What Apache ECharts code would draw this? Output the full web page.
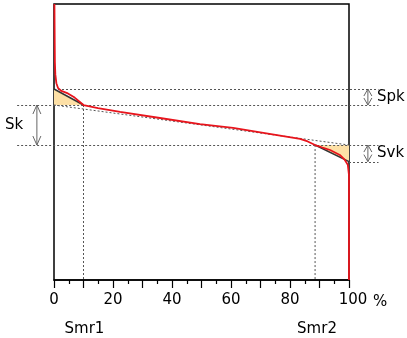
<!DOCTYPE html>
<html><head><meta charset="utf-8">
<script src="https://cdn.jsdelivr.net/npm/echarts@6/dist/echarts.min.js"></script>
<style>html,body{margin:0;padding:0;background:#fff}#c{width:407px;height:338px}</style>
</head><body><div id="c"></div>
<script>
// Abbott-Firestone (bearing area) curve: material ratio (%) vs. height (relative units, 0-100)
const curveX = [0.15, 0.2, 0.25, 0.3, 0.45, 0.8, 1.4, 2.5, 4.7, 7, 10, 14.9, 22.4, 35.9, 49.5, 60.7, 75.6, 83.4, 86, 88.5, 91, 93.6, 96.9, 98.6, 99.6, 100, 100];
const curveY = [100, 92, 85, 79, 74.5, 71.3, 69.5, 68.5, 67.6, 66.1, 63.4, 62.3, 60.9, 58.7, 56.5, 55.1, 52.5, 51.1, 50.2, 48.9, 48.0, 47.1, 45.3, 43.5, 41.7, 38, 0];
const xTickLabels = [0, 20, 40, 60, 80, 100];
// Spk top, Sk top, Sk bottom, Svk bottom
const levelValues = [69.2, 63.4, 48.9, 42.9];
// Smr1, Smr2
const smrValues = [10, 88.5];
const guideExtent = [-12.5, 110];
const arrowColumns = [-5.8, 106.4];

const chart = echarts.init(document.getElementById('c'), null, {renderer: 'canvas'});
const FONT = 'DejaVu Sans';
const [spkTop, skTop, skBot, svkBot] = levelValues;
const [smr1, smr2] = smrValues;
const dash = {color: '#555', width: 1, type: [2, 2]};
function seg(points, style, z) {
  return {type: 'line', data: points, symbol: 'none', clip: false, silent: true, animation: false, lineStyle: style, z: z || 3};
}

const option = {
  animation: false,
  grid: {left: 54, right: 58, top: 4, bottom: 58, show: true, borderColor: '#000', borderWidth: 1.5, backgroundColor: 'transparent'},
  xAxis: {
    type: 'value', min: 0, max: 100, interval: 10,
    axisLine: {lineStyle: {color: '#000', width: 1.5}},
    axisTick: {length: 8, lineStyle: {color: '#000', width: 1.2}},
    minorTick: {show: true, splitNumber: 2, length: 4, lineStyle: {color: '#000', width: 1.2}},
    splitLine: {show: false},
    axisLabel: {
      margin: 13, fontFamily: FONT, fontSize: 15, color: '#000',
      formatter: function (v) {
        if (xTickLabels.indexOf(v) < 0) return '';
        return v === 100 ? '{p|100}' : String(v);
      },
      rich: {p: {fontFamily: FONT, fontSize: 15, color: '#000', padding: [0, 0, 0, 8]}}
    }
  },
  yAxis: {
    type: 'value', min: 0, max: 100,
    axisLine: {show: false}, axisTick: {show: false}, axisLabel: {show: false}, splitLine: {show: false}
  },
  series: [
    {
      type: 'custom', z: 1, silent: true,
      encode: {x: [0, 2, 4], y: [1, 3, 5]},
      data: [[0, spkTop, 0, skTop, smr1, skTop], [smr2, skBot, 100, skBot, 100, svkBot]],
      renderItem: function (params, api) {
        const pts = [];
        for (let k = 0; k < 3; k++) pts.push(api.coord([api.value(2 * k), api.value(2 * k + 1)]));
        return {type: 'polygon', shape: {points: pts}, style: {fill: '#fde0a6', stroke: null}};
      }
    },
    seg([[smr1, skTop], [smr1, 0]], dash),
    seg([[smr2, skBot], [smr2, 0]], dash),
    seg([[0, skTop], [100, skBot]], dash),
    seg([[0, spkTop], [smr1, skTop]], {color: '#333', width: 1.5}, 4),
    seg([[smr2, skBot], [100, svkBot]], {color: '#333', width: 1.5}, 4),
    {
      type: 'line', data: curveX.map((x, i) => [x, curveY[i]]), symbol: 'none', clip: false,
      lineStyle: {color: '#e8141c', width: 1.8}, z: 6, silent: true
    }
  ]
};
chart.setOption(option);

function px(x, y) { return chart.convertToPixel({gridIndex: 0}, [x, y]); }
function hguide(x0, x1, y) {
  const a = px(x0, y), b = px(x1, y);
  return {type: 'line', z: 3, shape: {x1: a[0], y1: Math.round(a[1]) + 0.5, x2: b[0], y2: Math.round(a[1]) + 0.5},
    style: {stroke: '#555', lineWidth: 1, lineDash: [2, 2]}};
}
function arrow(xv, yTop, yBot, h, w) {
  const a = px(xv, yTop), b = px(xv, yBot);
  const st = {stroke: '#666', lineWidth: 1, fill: null};
  return [
    {type: 'line', shape: {x1: a[0], y1: a[1], x2: b[0], y2: b[1]}, style: st},
    {type: 'polyline', shape: {points: [[a[0] - w, a[1] + h], [a[0], a[1]], [a[0] + w, a[1] + h]]}, style: st},
    {type: 'polyline', shape: {points: [[b[0] - w, b[1] - h], [b[0], b[1]], [b[0] + w, b[1] - h]]}, style: st}
  ];
}
function label(text, x, y) {
  return {type: 'text', x: x, y: y, style: {text: text, fill: '#000', font: '15px "' + FONT + '"', textVerticalAlign: 'middle', verticalAlign: 'middle'}};
}
const guides = [
  hguide(0, guideExtent[1], spkTop),
  hguide(guideExtent[0], guideExtent[1], skTop),
  hguide(guideExtent[0], guideExtent[1], skBot),
  hguide(100, guideExtent[1], svkBot)
];
const sk = arrow(arrowColumns[0], skTop, skBot, 9, 4);
const spk = arrow(arrowColumns[1], spkTop, skTop, 7, 4);
const svk = arrow(arrowColumns[1], skBot, svkBot, 7, 4);
const pSk = px(0, (skTop + skBot) / 2);
const pSpk = px(0, (spkTop + skTop) / 2);
const pSvk = px(0, (skBot + svkBot) / 2);
const pS1 = px(smr1, 0), pS2 = px(smr2, 0);
chart.setOption({
  graphic: [].concat(guides, sk, spk, svk, [
    label('Sk', 5, pSk[1]),
    label('Spk', 377, pSpk[1]),
    label('Svk', 377, pSvk[1]),
    label('Smr1', pS1[0] - 19, 329),
    label('Smr2', pS2[0] - 18, 329),
    label('%', 373, 302)
  ])
});
</script>
</body></html>
